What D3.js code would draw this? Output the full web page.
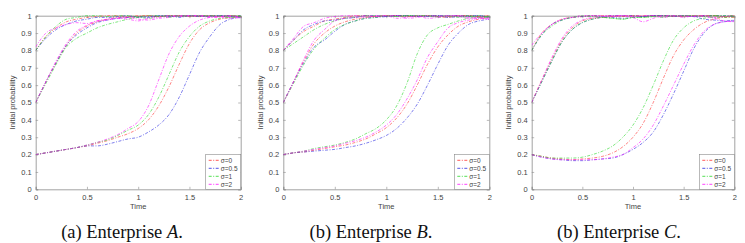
<!DOCTYPE html>
<html>
<head>
<meta charset="utf-8">
<script src="https://cdn.jsdelivr.net/npm/d3@7"></script>
<style>
  body { margin: 0; background: #fff; }
  svg text { font-family: "Liberation Sans", Arial, sans-serif; }
</style>
</head>
<body>
<svg id="chart" width="745" height="243"></svg>
<script>
// time samples
var times = [0,0.1,0.2,0.3,0.4,0.5,0.6,0.7,0.8,0.9,1,1.1,1.2,1.3,1.4,1.5,1.6,1.7,1.8,1.9,2];
var sigmaLabels = ["σ=0", "σ=0.5", "σ=1", "σ=2"];
var yTicks = [0,0.1,0.2,0.3,0.4,0.5,0.6,0.7,0.8,0.9,1];
var xTicks = [0,0.5,1,1.5,2];

// Enterprise A : each sigma -> curves starting at 0.2, 0.5, 0.8
var aSigma0 = [
  [0.20,0.21,0.22,0.23,0.24,0.25,0.265,0.28,0.30,0.32,0.35,0.40,0.48,0.59,0.72,0.84,0.92,0.96,0.98,0.99,0.995],
  [0.50,0.62,0.73,0.83,0.90,0.94,0.965,0.98,0.99,0.99,0.995,1,0.995,1,1,0.995,1,1,0.995,1,0.995],
  [0.80,0.88,0.93,0.965,0.98,0.99,0.995,1,1,0.995,1,1,0.995,1,1,1,0.995,1,1,1,0.995]];
var aSigma05 = [
  [0.20,0.21,0.22,0.23,0.24,0.25,0.25,0.26,0.275,0.29,0.30,0.33,0.37,0.43,0.53,0.66,0.79,0.88,0.95,0.98,0.99],
  [0.50,0.62,0.73,0.83,0.89,0.93,0.96,0.975,0.985,0.99,0.995,0.99,1,0.995,1,1,0.995,1,1,0.995,1],
  [0.80,0.87,0.92,0.95,0.97,0.98,0.99,0.99,0.995,1,0.99,0.995,1,1,0.99,1,1,0.995,1,1,0.99]];
var aSigma1 = [
  [0.20,0.21,0.22,0.23,0.24,0.255,0.27,0.285,0.31,0.34,0.37,0.43,0.53,0.66,0.79,0.88,0.94,0.97,0.985,0.99,0.995],
  [0.50,0.61,0.72,0.82,0.87,0.90,0.93,0.95,0.965,0.98,0.99,0.985,0.995,1,0.995,1,1,0.995,1,0.99,0.995],
  [0.80,0.88,0.94,0.98,0.99,1,1,0.995,1,1,0.995,1,1,0.99,1,1,1,1,0.995,1,1]];
var aSigma2 = [
  [0.20,0.21,0.22,0.23,0.24,0.255,0.27,0.29,0.315,0.35,0.39,0.48,0.63,0.78,0.88,0.94,0.975,0.99,0.995,0.995,0.99],
  [0.50,0.62,0.74,0.84,0.91,0.945,0.97,0.98,0.985,0.99,0.98,0.975,0.985,0.99,1,1,1,0.995,0.99,0.985,0.99],
  [0.82,0.90,0.93,0.95,0.96,0.955,0.97,0.975,0.985,0.98,0.97,0.985,0.99,1,0.995,1,1,0.99,0.995,1,0.985]];

// Enterprise B
var bSigma0 = [
  [0.20,0.21,0.215,0.225,0.235,0.245,0.255,0.27,0.29,0.32,0.355,0.41,0.49,0.60,0.72,0.82,0.89,0.94,0.965,0.98,0.99],
  [0.50,0.62,0.74,0.84,0.90,0.94,0.965,0.98,0.99,0.995,1,1,0.995,1,1,0.995,0.99,1,1,0.995,1],
  [0.80,0.86,0.91,0.94,0.97,0.98,0.99,1,1,0.995,1,1,1,0.995,1,1,0.995,1,1,0.995,1]];
var bSigma05 = [
  [0.20,0.21,0.215,0.22,0.225,0.23,0.24,0.25,0.265,0.285,0.31,0.35,0.41,0.49,0.60,0.72,0.83,0.90,0.95,0.97,0.98],
  [0.50,0.62,0.73,0.82,0.86,0.91,0.95,0.97,0.985,0.99,0.995,1,1,0.995,1,1,0.99,0.995,1,1,0.99],
  [0.80,0.86,0.92,0.95,0.97,0.975,0.985,0.99,1,1,0.995,1,1,1,0.995,1,1,1,0.995,1,0.99]];
var bSigma1 = [
  [0.20,0.21,0.22,0.235,0.245,0.255,0.27,0.29,0.32,0.35,0.40,0.48,0.61,0.78,0.89,0.93,0.95,0.97,0.985,0.99,0.99],
  [0.50,0.61,0.72,0.81,0.87,0.92,0.95,0.97,0.985,0.99,1,0.995,1,1,1,0.99,1,0.995,1,0.99,0.995],
  [0.80,0.84,0.88,0.92,0.95,0.97,0.985,0.99,1,1,1,0.995,1,1,1,0.995,1,0.99,0.995,1,0.99]];
var bSigma2 = [
  [0.20,0.21,0.22,0.23,0.24,0.25,0.265,0.28,0.30,0.33,0.37,0.43,0.52,0.63,0.76,0.85,0.93,0.96,0.975,0.985,0.99],
  [0.50,0.62,0.75,0.86,0.92,0.97,0.985,0.99,1,0.995,1,1,0.985,0.99,1,0.995,1,1,0.99,0.985,0.98],
  [0.80,0.87,0.94,0.96,0.985,0.995,1,1,0.99,1,1,0.985,0.99,1,0.985,0.99,1,0.995,0.985,0.99,0.98]];

// Enterprise C
var cSigma0 = [
  [0.20,0.19,0.18,0.175,0.17,0.175,0.18,0.19,0.21,0.245,0.30,0.38,0.50,0.64,0.77,0.86,0.92,0.96,0.98,0.99,0.99],
  [0.50,0.63,0.75,0.86,0.93,0.97,0.985,0.99,0.995,1,1,0.995,1,1,1,0.995,1,1,1,0.995,1],
  [0.80,0.90,0.95,0.98,0.99,0.995,1,1,1,0.995,1,1,1,1,0.995,1,1,1,1,0.995,1]];
var cSigma05 = [
  [0.20,0.185,0.175,0.17,0.165,0.165,0.17,0.175,0.18,0.20,0.23,0.27,0.33,0.43,0.55,0.68,0.81,0.90,0.95,0.965,0.97],
  [0.50,0.62,0.74,0.85,0.92,0.96,0.98,0.99,0.99,0.985,0.99,0.995,1,1,0.995,1,0.995,1,1,1,0.995],
  [0.80,0.89,0.95,0.975,0.99,0.995,1,0.995,1,1,1,0.995,1,1,1,1,0.995,0.98,0.975,0.97,0.975]];
var cSigma1 = [
  [0.20,0.19,0.18,0.18,0.18,0.185,0.20,0.22,0.25,0.30,0.37,0.47,0.60,0.74,0.86,0.93,0.97,0.985,0.99,0.99,0.995],
  [0.50,0.62,0.74,0.85,0.92,0.96,0.98,0.99,0.985,0.98,0.99,0.99,0.995,0.99,1,1,1,0.995,1,1,1],
  [0.80,0.89,0.94,0.975,0.99,1,0.995,0.99,0.985,0.98,0.99,0.99,0.995,1,1,1,1,0.995,1,0.995,1]];
var cSigma2 = [
  [0.20,0.185,0.175,0.17,0.17,0.17,0.17,0.175,0.185,0.20,0.24,0.29,0.37,0.48,0.60,0.72,0.83,0.91,0.95,0.965,0.97],
  [0.50,0.63,0.76,0.87,0.94,0.975,0.99,0.995,1,1,0.995,1,1,0.99,1,1,0.995,1,0.99,0.995,1],
  [0.83,0.90,0.95,0.98,0.99,1,1,1,0.995,1,0.99,0.965,0.985,1,1,0.99,1,0.995,0.985,0.97,0.965]];

var colors = ["#ff3030", "#2828e0", "#28d828", "#ff10ff"];

var panels = [
  {tag: "(a) Enterprise ", ent: "A", left: 35.7, right: 240.7, cap: 122, series: [aSigma0, aSigma05, aSigma1, aSigma2]},
  {tag: "(b) Enterprise ", ent: "B", left: 283.3, right: 489.3, cap: 371, series: [bSigma0, bSigma05, bSigma1, bSigma2]},
  {tag: "(b) Enterprise ", ent: "C", left: 531.7, right: 734.3, cap: 619, series: [cSigma0, cSigma05, cSigma1, cSigma2]}
];

var svg = d3.select("#chart"),
    plotTop = 15.7, plotBottom = 189.3;

panels.forEach(function(p, pi) {
  var x = d3.scaleLinear().domain([0, 2]).range([p.left, p.right]);
  var y = d3.scaleLinear().domain([0, 1]).range([plotBottom, plotTop]);
  var g = svg.append("g");

  g.append("clipPath").attr("id", "clip" + pi)
    .append("rect")
      .attr("x", p.left).attr("y", plotTop - 1)
      .attr("width", p.right - p.left).attr("height", plotBottom - plotTop + 1);

  // axes (MATLAB style, ticks inside)
  g.append("g")
      .attr("transform", "translate(0," + plotBottom + ")")
      .call(d3.axisBottom(x).tickValues(xTicks).tickSize(-2.5).tickPadding(5).tickFormat(d3.format("")));
  g.append("g")
      .attr("transform", "translate(" + p.left + ",0)")
      .call(d3.axisLeft(y).tickValues(yTicks).tickSize(-2.5).tickPadding(4).tickFormat(d3.format("")));
  g.append("g")
      .attr("transform", "translate(0," + plotTop + ")")
      .call(d3.axisTop(x).tickValues(xTicks).tickSize(-2.5).tickFormat(""));
  g.append("g")
      .attr("transform", "translate(" + p.right + ",0)")
      .call(d3.axisRight(y).tickValues(yTicks).tickSize(-2.5).tickFormat(""));

  g.selectAll(".domain").attr("stroke", "#8a8a8a").attr("stroke-width", 0.8);
  g.selectAll(".tick line").attr("stroke", "#8a8a8a").attr("stroke-width", 0.6);
  g.selectAll(".tick text").attr("fill", "#444").style("font-size", "7.5px");

  g.append("text")
      .attr("transform", "translate(" + (p.left - 23) + "," + ((plotTop + plotBottom) / 2) + ")rotate(-90)")
      .attr("text-anchor", "middle")
      .attr("dy", "0.35em")
      .attr("fill", "#444")
      .style("font-size", "7.5px")
      .text("Initial probability");

  g.append("text")
      .attr("x", (p.left + p.right) / 2)
      .attr("y", 209)
      .attr("text-anchor", "middle")
      .attr("fill", "#444")
      .style("font-size", "7.5px")
      .text("Time");

  var line = d3.line()
      .x(function(d, i) { return x(times[i]); })
      .y(function(d) { return y(d); })
      .curve(d3.curveMonotoneX);

  var plot = g.append("g").attr("clip-path", "url(#clip" + pi + ")");
  p.series.forEach(function(group, si) {
    plot.selectAll(null)
      .data(group)
      .enter().append("path")
        .attr("d", line)
        .attr("fill", "none")
        .attr("stroke", colors[si])
        .attr("stroke-width", 0.8)
        .attr("stroke-opacity", 0.75)
        .attr("stroke-dasharray", "3,1.5,1,1.5");
  });

  // legend
  var lw = 35, lh = 35, lx = p.right - lw, ly = plotBottom - lh;
  var legend = g.append("g").attr("transform", "translate(" + lx + "," + ly + ")");
  legend.append("rect")
      .attr("width", lw).attr("height", lh)
      .attr("fill", "#fff").attr("stroke", "#8a8a8a").attr("stroke-width", 0.6);
  var item = legend.selectAll("g")
    .data(sigmaLabels)
    .enter().append("g")
      .attr("transform", function(d, i) { return "translate(0," + (6 + i * 8) + ")"; });
  item.append("line")
      .attr("x1", 3).attr("x2", 13)
      .attr("stroke", function(d, i) { return colors[i]; })
      .attr("stroke-width", 0.8)
      .attr("stroke-dasharray", "3,1.5,1,1.5");
  item.append("text")
      .attr("x", 15)
      .attr("dy", "0.35em")
      .attr("fill", "#444")
      .style("font-size", "6.5px")
      .text(function(d) { return d; });

  // caption
  var cap = svg.append("text")
      .attr("x", p.cap)
      .attr("y", 238)
      .attr("text-anchor", "middle")
      .style("font-family", "'Liberation Serif', 'Times New Roman', serif")
      .style("font-size", "18.5px")
      .attr("fill", "#111");
  cap.append("tspan").text(p.tag);
  cap.append("tspan").style("font-style", "italic").text(p.ent);
  cap.append("tspan").text(".");
});
</script>
</body>
</html>
